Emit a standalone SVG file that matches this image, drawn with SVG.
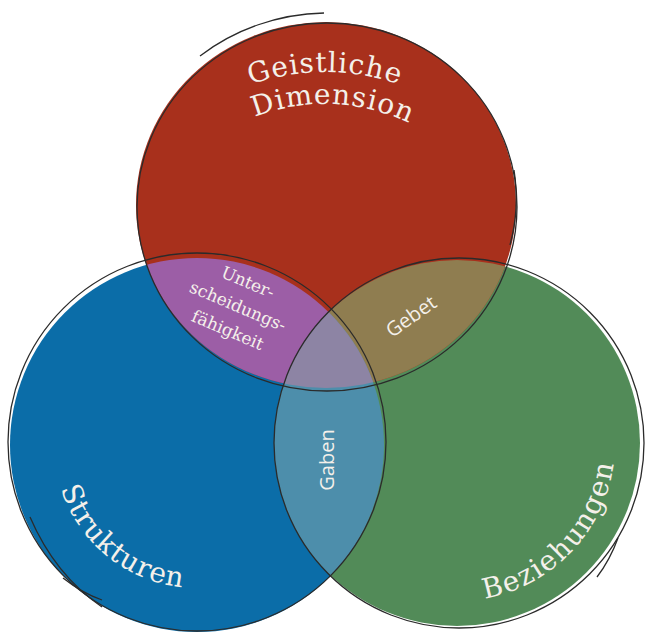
<svg xmlns="http://www.w3.org/2000/svg" width="645" height="632" viewBox="0 0 645 632">
<style>
.ol{fill:none;stroke:#2b2b2b;stroke-width:1.3}
.big{font-family:"DejaVu Serif","Liberation Serif",serif;font-size:28px;fill:#F4F0EA}
.sm{font-family:"DejaVu Serif","Liberation Serif",serif;font-size:17px;fill:#F4F0EA}
.ss{font-family:"Open Sans","DejaVu Sans",sans-serif;font-size:20px;fill:#F4F0EA}
</style>
<defs>
<clipPath id="cRed"><ellipse cx="326" cy="205" rx="190" ry="183"/></clipPath>
<clipPath id="cBlue"><circle cx="197" cy="445" r="187"/></clipPath>
<path id="pGeist" d="M99,298 A226,226 0 0 1 551,298"/>
<path id="pDim" d="M131,298 A194,194 0 0 1 519,298"/>
<path id="pStruk" d="M54.5,457.5 A143,143 0 0 0 221.8,585.8"/>
<path id="pBez" d="M443.2,600.4 A158,158 0 0 0 612.6,415.6"/>
</defs>
<rect width="645" height="632" fill="#ffffff"/>
<g id="fills">
<circle id="blueFill" cx="197" cy="445" r="187" fill="#0B6DA8"/>
<circle id="greenFill" cx="457" cy="443" r="183" fill="#528B58"/>
<ellipse id="redFill" cx="326" cy="205" rx="190" ry="183" fill="#A8301C"/>
<g clip-path="url(#cRed)">
<circle cx="197" cy="445" r="187" fill="#9C5EA6"/>
<circle cx="457" cy="443" r="183" fill="#8F7D50"/>
</g>
<g clip-path="url(#cBlue)">
<circle cx="457" cy="443" r="183" fill="#4D8EAB"/>
</g>
<g clip-path="url(#cRed)"><g clip-path="url(#cBlue)">
<circle cx="457" cy="443" r="183" fill="#8D84A4"/>
</g></g>
</g>
<g id="connectors">
<ellipse class="ol" cx="327" cy="207" rx="190" ry="184"/>
<path class="ol" d="M200,56 A205,195 0 0 1 324,13"/>
<path class="ol" d="M514,170 A190,184 0 0 1 510,245"/>
<circle class="ol" cx="197" cy="442" r="189"/>
<path class="ol" d="M30,517 Q55,575 102,607"/>
<path class="ol" d="M63,578 Q82,593 102,600"/>
<circle class="ol" cx="459" cy="443" r="185"/>
<path class="ol" d="M618,538 Q610,560 597,577"/>
</g>
<g id="geistliche">
<text class="big"><textPath href="#pGeist" startOffset="50%" text-anchor="middle" letter-spacing="1">Geistliche</textPath></text>
<text class="big"><textPath href="#pDim" startOffset="51.3%" text-anchor="middle" letter-spacing="1">Dimension</textPath></text>
</g>
<g id="strukturen">
<text class="big"><textPath href="#pStruk" startOffset="115" text-anchor="middle" letter-spacing="1">Strukturen</textPath></text>
</g>
<g id="beziehungen">
<text class="big"><textPath href="#pBez" startOffset="142" text-anchor="middle" letter-spacing="1.5">Beziehungen</textPath></text>
</g>
<g id="unterscheidung" transform="translate(238,306) rotate(23)">
<text class="sm" x="0" y="-20" text-anchor="middle">Unter-</text>
<text class="sm" x="0" y="6" text-anchor="middle">scheidungs-</text>
<text class="sm" x="0" y="32" text-anchor="middle">fähigkeit</text>
</g>
<g id="gebet">
<text class="ss" transform="translate(415,322) rotate(-35)" text-anchor="middle">Gebet</text>
</g>
<g id="gaben">
<text class="ss" transform="translate(334,460) rotate(-90)" text-anchor="middle">Gaben</text>
</g>
</svg>
